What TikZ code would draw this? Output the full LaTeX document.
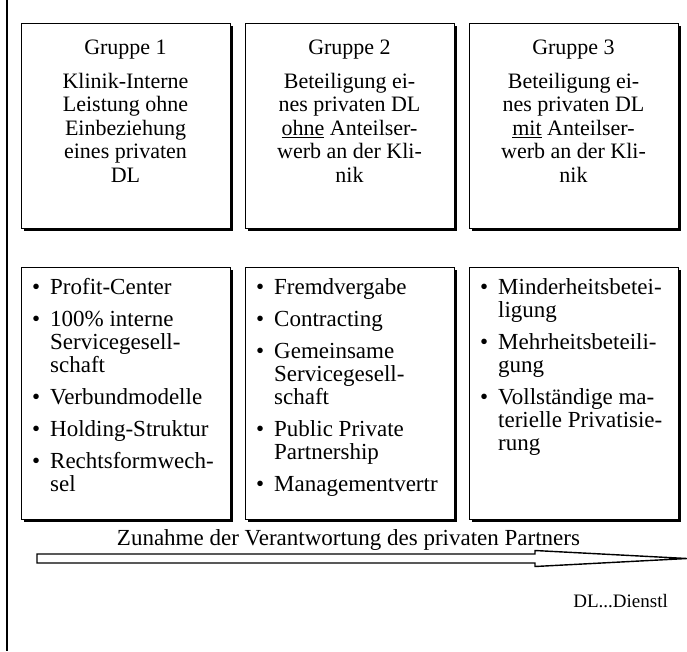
\documentclass[tikz,border=0pt]{standalone}
\usepackage{fontspec}
\setmainfont{Liberation Serif}
\usetikzlibrary{shadows,calc}
% first-line strut: fixes the distance from a text node's top to its first baseline
\newcommand{\fstrut}{\rule{0pt}{16pt}}
% bullet column of the lists
\newcommand{\bul}{\makebox[18pt][l]{\textbullet}}
\newcommand{\ind}{\hspace*{18pt}}
\begin{document}
\begin{tikzpicture}[x=1pt,y=-1pt,
  panel/.style={draw, line width=1.3pt, fill=white, anchor=north west, inner sep=0pt,
    minimum width=209pt,
    drop shadow={shadow xshift=2.5pt, shadow yshift=-2.5pt, fill=black, opacity=1}},
  headpanel/.style={panel, minimum height=205pt},
  listpanel/.style={panel, minimum height=252pt},
  headtext/.style={anchor=north, inner sep=0pt, align=center,
    font=\fontsize{22}{23.5}\selectfont},
  listtext/.style={anchor=north west, inner sep=0pt, align=left,
    font=\fontsize{23}{23}\selectfont},
  caption/.style={anchor=base, inner sep=0pt, font=\fontsize{23}{26}\selectfont},
  hollowarrow/.style={draw, line width=1.4pt, fill=white, line join=miter}]

\useasboundingbox (0,0) rectangle (687,651);
\fill[white] (0,0) rectangle (687,651);

% left margin rule
\coordinate (mtop) at (7,0);
\coordinate (mbot) at (7,651);
\draw[line width=1.6pt] (mtop) -- (mbot);

% group headers
\node[headpanel] (g1) at (21,23) {};
\node[headpanel] (g2) at (245,23) {};
\node[headpanel] (g3) at (469,23) {};

\node[headtext] (t1) at (125.5,38) {\fstrut Gruppe 1\\[10.5pt]
  Klinik-Interne\\Leistung ohne\\Einbeziehung\\eines privaten\\DL};
\node[headtext] (t2) at (349.5,38) {\fstrut Gruppe 2\\[10.5pt]
  Beteiligung ei-\\nes privaten DL\\\underline{ohne} Anteilser-\\werb an der Kli-\\nik};
\node[headtext] (t3) at (573.5,38) {\fstrut Gruppe 3\\[10.5pt]
  Beteiligung ei-\\nes privaten DL\\\underline{mit} Anteilser-\\werb an der Kli-\\nik};

% lists of models
\node[listpanel] (l1) at (21,267) {};
\node[listpanel] (l2) at (245,267) {};
\node[listpanel] (l3) at (469,267) {};

\node[listtext] (m1) at (32,278) {\fstrut\bul Profit-Center\\[9pt]
  \bul 100\% interne\\\ind Servicegesell-\\\ind schaft\\[9pt]
  \bul Verbundmodelle\\[9pt]
  \bul Holding-Struktur\\[9pt]
  \bul Rechtsformwech-\\\ind sel};
\node[listtext] (m2) at (256,278) {\fstrut\bul Fremdvergabe\\[9pt]
  \bul Contracting\\[9pt]
  \bul Gemeinsame\\\ind Servicegesell-\\\ind schaft\\[9pt]
  \bul Public Private\\\ind Partnership\\[9pt]
  \bul Managementvertr};
\node[listtext] (m3) at (480,278) {\fstrut\bul Minderheitsbetei-\\\ind ligung\\[9pt]
  \bul Mehrheitsbeteili-\\\ind gung\\[9pt]
  \bul Vollständige ma-\\\ind terielle Privatisie-\\\ind rung};

% responsibility scale
\node[caption] (cap) at (348.5,545) {Zunahme der Verantwortung des privaten Partners};
\coordinate (atail) at (37,558.5);
\coordinate (atip) at (687,558.5);
\draw[hollowarrow] ($(atail)+(0,-4.5)$) -- (535,554) -- (535,550.5) -- (atip)
  -- (535,566.5) -- (535,563) -- ($(atail)+(0,4.5)$) -- cycle;

% abbreviation note
\node[anchor=base east, inner sep=0pt, font=\fontsize{19}{22}\selectfont] (note) at (668,607) {DL...Dienstl};
\end{tikzpicture}
\end{document}
